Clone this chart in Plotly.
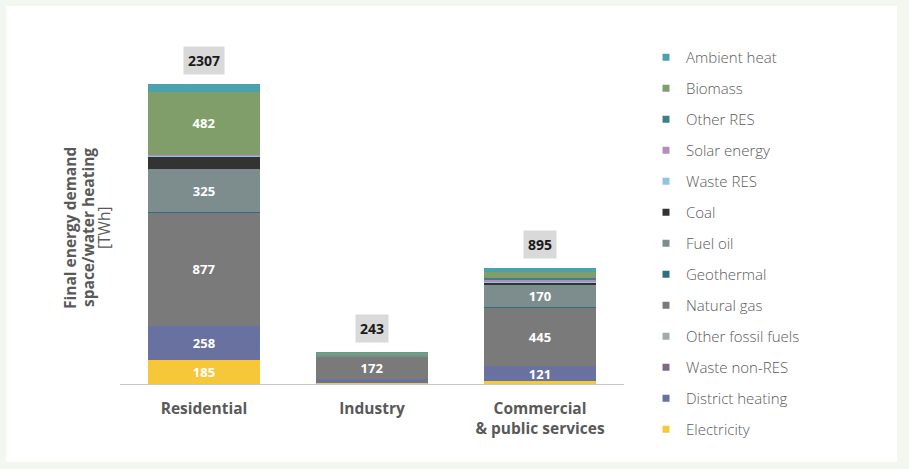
import plotly.graph_objects as go

# Sectors on the x axis
sectors = ["Residential", "Industry", "Commercial<br>& public services"]

# Final energy demand for space/water heating by carrier [TWh], stacked bottom -> top
carriers = [
    "Electricity", "District heating", "Waste non-RES", "Other fossil fuels",
    "Natural gas", "Geothermal", "Fuel oil", "Coal", "Waste RES",
    "Solar energy", "Other RES", "Biomass", "Ambient heat",
]
electricity = [185, 5, 20]
district_heating = [258, 35, 121]
waste_non_res = [0, 0, 0]
other_fossil = [0, 0, 0]
natural_gas = [877, 172, 445]
geothermal = [5, 0, 3]
fuel_oil = [325, 15, 170]
coal = [100, 3, 20]
waste_res = [5, 0, 10]
solar = [10, 0, 15]
other_res = [0, 0, 10]
biomass = [482, 10, 45]
ambient_heat = [60, 3, 36]

series = [electricity, district_heating, waste_non_res, other_fossil, natural_gas,
          geothermal, fuel_oil, coal, waste_res, solar, other_res, biomass, ambient_heat]

colors = [
    "#f6c739", "#6871a0", "#7e6a88", "#a2aba6", "#7a7a7a", "#2f6e7e",
    "#7d8d8e", "#333333", "#8fc4de", "#b68cba", "#3f8088", "#7f9e69", "#4aa2ae",
]

GRAY = "#595959"
FONT = "Open Sans"

fig = go.Figure()

for name, vals, col in zip(carriers, series, colors):
    labels = [str(v) if v >= 120 else "" for v in vals]
    fig.add_trace(go.Bar(
        x=sectors, y=vals, name=name, marker=dict(color=col, line=dict(width=0)),
        text=labels, textposition="inside", insidetextanchor="middle",
        textangle=0, textfont=dict(color="white", size=13, family=FONT, weight="bold"),
        showlegend=False, hoverinfo="name+y",
    ))

# legend entries (top -> bottom) with small square swatches
for name, col in zip(reversed(carriers), reversed(colors)):
    fig.add_trace(go.Scatter(
        x=[None], y=[None], mode="markers", name=name, legendgroup=name,
        marker=dict(symbol="square", size=7, color=col), showlegend=True,
    ))

# totals above each bar
totals = [sum(s[i] for s in series) for i in range(len(sectors))]
for cat, tot in zip(sectors, totals):
    fig.add_annotation(
        x=cat, y=tot, text=f"<b>{tot}</b>", showarrow=False, yanchor="bottom",
        yshift=9, bgcolor="#d9d9d9", borderpad=4,
        font=dict(size=14, color="#1a1a1a", family=FONT),
    )

# white panel on a pale green page
L, T, W, H = 120, 40, 504, 344
def px(xp):
    return (xp - L) / W
def py(yp):
    return (T + H - yp) / H

# axis title, rotated, one annotation per line
title_lines = ["<b>Final energy demand</b>", "<b>space/water heating</b>", "[TWh]"]
for xpos, line in zip([70, 88, 104], title_lines):
    fig.add_annotation(
        xref="paper", yref="paper", x=px(xpos), y=py(228), textangle=-90,
        xanchor="center", yanchor="middle", text=line, showarrow=False,
        font=dict(size=15.5, color=GRAY, family=FONT),
    )

fig.add_shape(type="rect", xref="paper", yref="paper", layer="below",
              x0=px(6), x1=px(897), y0=py(462), y1=py(6),
              fillcolor="white", line=dict(width=0))

fig.update_layout(
    width=909, height=469,
    margin=dict(l=L, r=909 - L - W, t=T, b=469 - T - H),
    barmode="stack", bargap=1 - 112 / 168,
    paper_bgcolor="#f2f7f0", plot_bgcolor="rgba(0,0,0,0)",
    font=dict(family=FONT, color=GRAY),
    uniformtext=dict(mode="show", minsize=12),
    legend=dict(
        x=px(646), y=py(41), xanchor="left", yanchor="top",
        traceorder="grouped", tracegroupgap=8.5, maxheight=460,
        font=dict(size=15, color=GRAY, family=FONT, weight=300),
        bgcolor="rgba(0,0,0,0)", itemwidth=30,
    ),
    xaxis=dict(
        showline=True, linecolor="#c8c8c8", linewidth=1, ticks="",
        tickfont=dict(size=15.5, color=GRAY, family=FONT, weight="bold"),
        ticklabelstandoff=10, showgrid=False,
    ),
    yaxis=dict(range=[0, 2646], showgrid=False, showticklabels=False,
               zeroline=False, showline=False),
)

fig.write_html("out.html")
